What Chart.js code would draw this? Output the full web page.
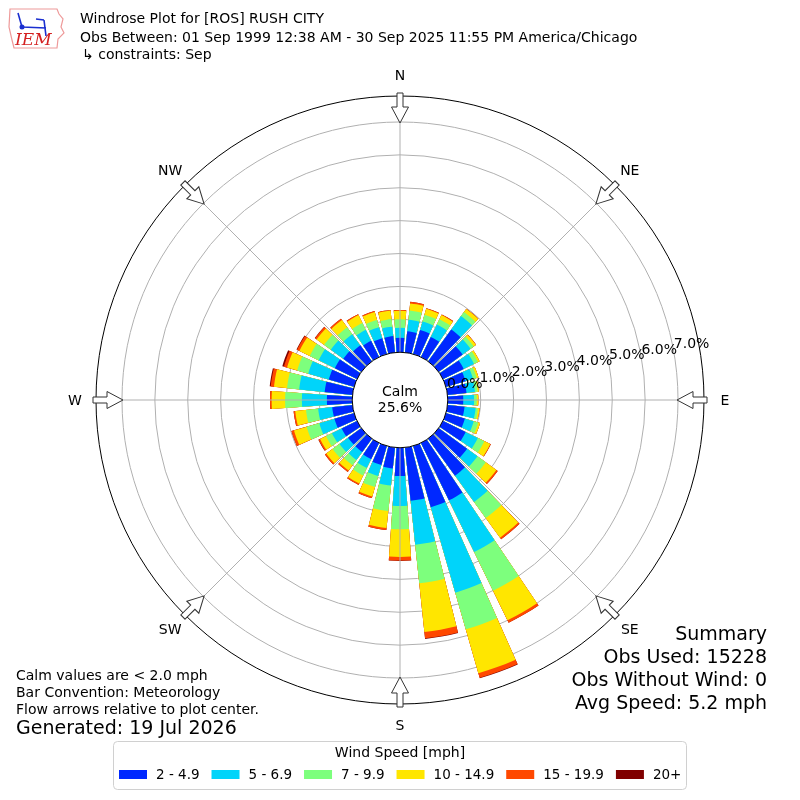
<!DOCTYPE html>
<html>
<head>
<meta charset="utf-8">
<title>Windrose Plot for [ROS] RUSH CITY</title>
<script src="https://cdn.jsdelivr.net/npm/chart.js@4.4.1/dist/chart.umd.min.js"></script>
<style>
  html, body { margin: 0; padding: 0; background: #fff; }
  #wrap { width: 800px; height: 800px; }
</style>
</head>
<body>
<div id="wrap"><canvas id="windrose" width="800" height="800"></canvas></div>
<script>
// wind direction bins (degrees, meteorological, clockwise from N)
const directions = [0, 10, 20, 30, 40, 50, 60, 70, 80, 90, 100, 110, 120, 130, 140, 150, 160, 170,
  180, 190, 200, 210, 220, 230, 240, 250, 260, 270, 280, 290, 300, 310, 320, 330, 340, 350];

const speedBins = ['2 - 4.9', '5 - 6.9', '7 - 9.9', '10 - 14.9', '15 - 19.9', '20+'];

// percent of observations per direction, one array per speed bin
const speed2to5 = [0.44, 0.65, 0.76, 0.68, 1.20, 0.90, 0.70, 0.62, 0.58, 0.47, 0.52, 0.60, 0.77, 1.07, 1.39, 1.94, 1.94, 1.63,
  0.86, 0.64, 0.60, 0.55, 0.50, 0.50, 0.52, 0.62, 0.62, 0.77, 0.85, 0.80, 0.75, 0.68, 0.60, 0.55, 0.50, 0.50];
const speed5to7 = [0.30, 0.35, 0.27, 0.42, 0.50, 0.30, 0.35, 0.24, 0.26, 0.33, 0.34, 0.28, 0.41, 0.39, 0.99, 1.75, 2.70, 1.34,
  0.91, 0.52, 0.35, 0.30, 0.30, 0.32, 0.33, 0.48, 0.43, 0.76, 0.78, 0.65, 0.55, 0.47, 0.42, 0.37, 0.35, 0.29];
const speed7to10 = [0.26, 0.28, 0.21, 0.18, 0.15, 0.12, 0.13, 0.11, 0.08, 0.08, 0.07, 0.14, 0.22, 0.31, 0.60, 1.31, 1.16, 1.18,
  0.71, 0.78, 0.35, 0.25, 0.20, 0.26, 0.20, 0.40, 0.37, 0.51, 0.37, 0.35, 0.30, 0.25, 0.26, 0.23, 0.23, 0.23];
const speed10to15 = [0.26, 0.22, 0.19, 0.14, 0.12, 0.08, 0.06, 0.06, 0.04, 0.05, 0.05, 0.06, 0.20, 0.40, 0.74, 1.00, 1.39, 1.49,
  0.84, 0.52, 0.30, 0.27, 0.20, 0.24, 0.20, 0.40, 0.33, 0.41, 0.40, 0.32, 0.35, 0.28, 0.27, 0.27, 0.25, 0.26];
const speed15to20 = [0.02, 0.05, 0.02, 0.02, 0.01, 0.01, 0, 0, 0, 0, 0, 0, 0.02, 0.05, 0.06, 0.08, 0.14, 0.19,
  0.11, 0.06, 0.05, 0.05, 0.05, 0.05, 0.05, 0.08, 0.05, 0.05, 0.10, 0.10, 0.08, 0.06, 0.05, 0.03, 0.03, 0.02];
const speed20plus = [0, 0, 0, 0, 0, 0, 0, 0, 0, 0, 0, 0, 0, 0, 0, 0, 0.02, 0.02,
  0.01, 0, 0, 0, 0, 0, 0.01, 0, 0, 0, 0.03, 0.05, 0.02, 0.01, 0, 0, 0, 0];

const radialTicks = [0, 1, 2, 3, 4, 5, 6, 7];
const compassLabels = ['N', 'NE', 'E', 'SE', 'S', 'SW', 'W', 'NW'];
const calmPercent = 25.6;

const binColors = ['#0028ff', '#00d4fa', '#7dff7d', '#ffe600', '#ff4800', '#800000'];
const font = '"DejaVu Sans", sans-serif';
const barAngle = 8;
const gapAngle = 2;
const rMin = -1.453;   // leaves room for the calm circle
const rMax = 7.79;

const bins = [speed2to5, speed5to7, speed7to10, speed10to15, speed15to20, speed20plus];

// every direction gets a bar slot followed by an empty gap slot
const labels = [];
directions.forEach(d => { labels.push(d + '°'); labels.push(''); });

// stacked look: cumulative totals, smallest drawn on top
const datasets = speedBins.map((name, k) => {
    const data = [];
    directions.forEach((d, i) => {
        let total = 0;
        for (let j = 0; j <= k; j++) total += bins[j][i];
        data.push(total, 0);
    });
    return {
        label: name,
        data: data,
        borderWidth: 0,
        backgroundColor: ctx => (ctx.dataIndex % 2 ? 'rgba(0,0,0,0)' : binColors[k]),
        angle: ctx => (ctx.dataIndex % 2 ? gapAngle : barAngle)
    };
});

function drawArrow(ctx, cx, cy, dir, tail, headBase, tip) {
    ctx.save();
    ctx.translate(cx, cy);
    ctx.rotate((dir - 90) * Math.PI / 180);
    ctx.beginPath();
    ctx.moveTo(tail, -3);
    ctx.lineTo(headBase, -3);
    ctx.lineTo(headBase, -8.5);
    ctx.lineTo(tip, 0);
    ctx.lineTo(headBase, 8.5);
    ctx.lineTo(headBase, 3);
    ctx.lineTo(tail, 3);
    ctx.closePath();
    ctx.fillStyle = '#fff';
    ctx.fill();
    ctx.strokeStyle = '#333';
    ctx.lineWidth = 1;
    ctx.stroke();
    ctx.restore();
}

function drawLogo(ctx) {
    ctx.save();
    ctx.strokeStyle = '#ee9a9a';
    ctx.lineWidth = 1.2;
    ctx.beginPath();
    ctx.moveTo(10, 9);
    ctx.lineTo(57, 9);
    ctx.lineTo(59, 14);
    ctx.lineTo(63, 19);
    ctx.lineTo(61, 27);
    ctx.lineTo(64, 33);
    ctx.lineTo(58, 39);
    ctx.lineTo(57, 48);
    ctx.lineTo(14, 48);
    ctx.lineTo(12, 40);
    ctx.lineTo(9, 27);
    ctx.closePath();
    ctx.stroke();
    ctx.strokeStyle = '#1a2fd0';
    ctx.fillStyle = '#1a2fd0';
    ctx.lineWidth = 1.6;
    ctx.beginPath();
    ctx.moveTo(18, 13); ctx.lineTo(22, 27);
    ctx.moveTo(22, 27); ctx.lineTo(46, 28);
    ctx.moveTo(36, 19); ctx.lineTo(44, 20);
    ctx.moveTo(44, 20); ctx.lineTo(46, 36);
    ctx.stroke();
    ctx.beginPath();
    ctx.arc(22, 27, 2.5, 0, Math.PI * 2);
    ctx.fill();
    ctx.fillStyle = '#d42020';
    ctx.font = 'italic 17px "DejaVu Serif", serif';
    ctx.textAlign = 'left';
    ctx.textBaseline = 'alphabetic';
    ctx.fillText('IEM', 15, 45);
    ctx.restore();
}

const decorPlugin = {
    id: 'windroseDecor',
    afterDatasetsDraw(chart) {
        const ctx = chart.ctx;
        const scale = chart.scales.r;
        const cx = scale.xCenter, cy = scale.yCenter;
        ctx.save();
        ctx.strokeStyle = '#b0b0b0';
        ctx.lineWidth = 1;
        for (let a = 0; a < 360; a += 45) {
            const t = (a - 90) * Math.PI / 180;
            ctx.beginPath();
            ctx.moveTo(cx, cy);
            ctx.lineTo(cx + scale.drawingArea * Math.cos(t), cy + scale.drawingArea * Math.sin(t));
            ctx.stroke();
        }
        ctx.restore();
    },
    afterDraw(chart) {
        const ctx = chart.ctx;
        const scale = chart.scales.r;
        const cx = scale.xCenter, cy = scale.yCenter;
        const outer = scale.drawingArea;
        const calmR = scale.getDistanceFromCenterForValue(0);

        ctx.save();
        // calm circle
        ctx.beginPath();
        ctx.arc(cx, cy, calmR, 0, Math.PI * 2);
        ctx.fillStyle = '#fff';
        ctx.fill();
        ctx.strokeStyle = '#000';
        ctx.lineWidth = 1;
        ctx.stroke();
        ctx.fillStyle = '#000';
        ctx.font = '14px ' + font;
        ctx.textAlign = 'center';
        ctx.textBaseline = 'middle';
        ctx.fillText('Calm', cx, cy - 8);
        ctx.fillText(calmPercent.toFixed(1) + '%', cx, cy + 8);

        // radial tick labels
        const la = 10 * Math.PI / 180;
        ctx.textAlign = 'left';
        radialTicks.forEach(v => {
            const r = scale.getDistanceFromCenterForValue(v);
            ctx.fillText(v.toFixed(1) + '%', cx + r * Math.cos(la), cy - r * Math.sin(la) - 7.5);
        });

        // flow arrows and compass labels
        const tip = scale.getDistanceFromCenterForValue(radialTicks[radialTicks.length - 1]) - 1;
        ctx.textAlign = 'center';
        compassLabels.forEach((name, i) => {
            const dir = i * 45;
            drawArrow(ctx, cx, cy, dir, outer + 3, outer - 11, tip);
            const t = (dir - 90) * Math.PI / 180;
            ctx.fillStyle = '#000';
            ctx.fillText(name, cx + (outer + 21) * Math.cos(t), cy + (outer + 21) * Math.sin(t) + 1);
        });

        // header
        drawLogo(ctx);
        ctx.fillStyle = '#000';
        ctx.textAlign = 'left';
        ctx.textBaseline = 'middle';
        ctx.font = '14px ' + font;
        ctx.fillText('Windrose Plot for [ROS] RUSH CITY', 80, 19);
        ctx.fillText('Obs Between: 01 Sep 1999 12:38 AM - 30 Sep 2025 11:55 PM America/Chicago', 80, 38);
        ctx.fillText('\u21b3 constraints: Sep', 82, 55);

        // notes, bottom left
        ctx.fillText('Calm values are < 2.0 mph', 16, 676);
        ctx.fillText('Bar Convention: Meteorology', 16, 693);
        ctx.fillText('Flow arrows relative to plot center.', 16, 710);
        ctx.font = '19px ' + font;
        ctx.fillText('Generated: 19 Jul 2026', 16, 729);

        // summary, bottom right
        ctx.textAlign = 'right';
        ctx.fillText('Summary', 767, 635);
        ctx.fillText('Obs Used: 15228', 767, 658);
        ctx.fillText('Obs Without Wind: 0', 767, 681);
        ctx.fillText('Avg Speed: 5.2 mph', 767, 704);

        // legend box
        ctx.beginPath();
        ctx.roundRect(113.5, 741.5, 573, 48, 4);
        ctx.fillStyle = 'rgba(255,255,255,0.8)';
        ctx.fill();
        ctx.strokeStyle = '#d0d0d0';
        ctx.lineWidth = 1;
        ctx.stroke();
        ctx.fillStyle = '#000';
        ctx.font = '14px ' + font;
        ctx.textAlign = 'center';
        ctx.fillText('Wind Speed [mph]', 400, 753);
        ctx.textAlign = 'left';
        ctx.font = '13.5px ' + font;
        let x = 119;
        speedBins.forEach((name, k) => {
            ctx.fillStyle = binColors[k];
            ctx.fillRect(x, 770, 28, 9);
            ctx.fillStyle = '#000';
            ctx.fillText(name, x + 37, 775);
            x += 37 + ctx.measureText(name).width + 12;
        });
        ctx.restore();
    }
};

const chart = new Chart(document.getElementById('windrose'), {
    type: 'polarArea',
    data: { labels: labels, datasets: datasets },
    options: {
        responsive: false,
        animation: false,
        events: [],
        layout: { padding: 96 },
        plugins: {
            legend: { display: false },
            tooltip: { enabled: false }
        },
        scales: {
            r: {
                min: rMin,
                max: rMax,
                startAngle: -barAngle / 2,
                z: 1,
                afterBuildTicks: scale => {
                    scale.ticks = radialTicks.concat([rMax]).map(v => ({ value: v }));
                },
                grid: {
                    circular: true,
                    lineWidth: 1,
                    color: ctx => (ctx.tick && ctx.tick.value === rMax ? '#000' : '#b0b0b0')
                },
                angleLines: { display: false },
                pointLabels: { display: false },
                ticks: { display: false }
            }
        }
    },
    plugins: [decorPlugin]
});
</script>
</body>
</html>
